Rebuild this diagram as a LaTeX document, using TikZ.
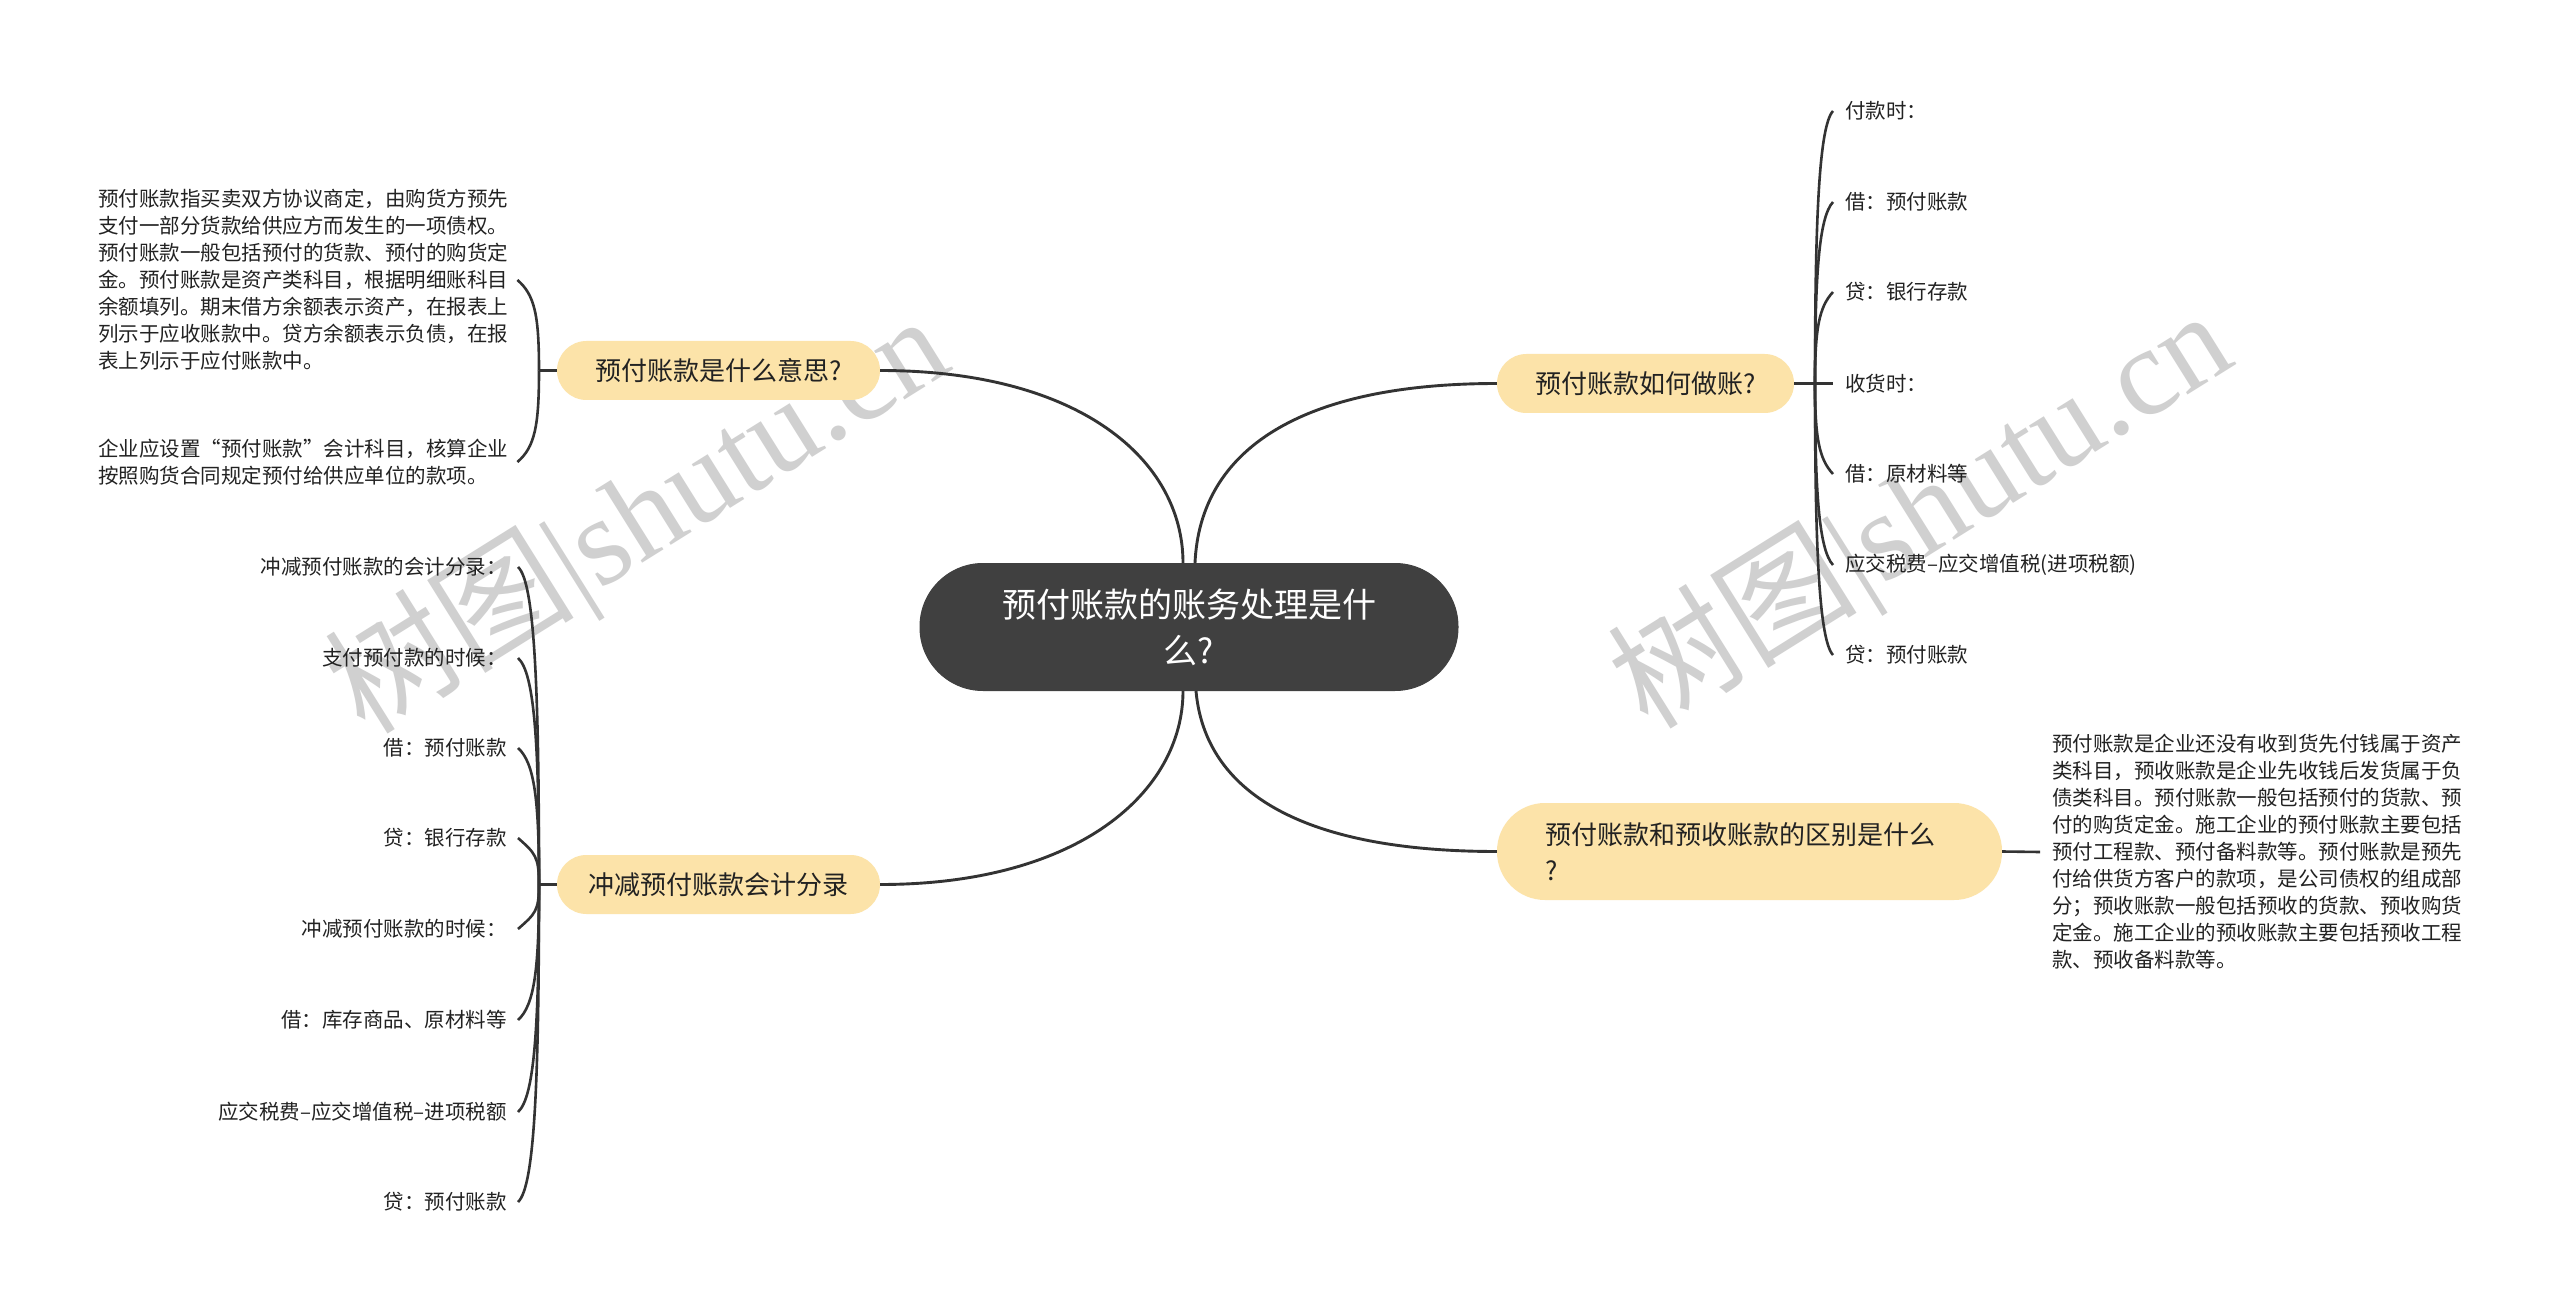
\documentclass[tikz,border=0pt]{standalone}
\usepackage{fontspec}
\setmainfont{Noto Sans CJK SC}
\newfontfamily\wmserif{Liberation Serif}
\usetikzlibrary{calc}
\definecolor{pill}{HTML}{FCE3A9}
\definecolor{hubdark}{HTML}{404040}
\definecolor{linec}{HTML}{333333}
\definecolor{wmc}{HTML}{D0D0D0}
\definecolor{txt}{HTML}{222222}
\begin{document}
\begin{tikzpicture}[x=1pt,y=-1pt,
  link/.style={draw=linec,line width=2.9pt},
  twig/.style={draw=linec,line width=2.6pt},
  topic/.style={fill=pill,rounded corners=29.5pt,minimum height=59pt,inner sep=0pt,
    font=\fontsize{26}{34}\selectfont,text=txt},
  leaf/.style={inner sep=0pt,font=\fontsize{20.5}{27}\selectfont,text=txt},
  watermark/.style={rotate=32,text=wmc,inner sep=0pt,font=\fontsize{125}{125}\selectfont}
]
\fill[white] (0,0) rectangle (2560,1313);
\useasboundingbox (0,0) rectangle (2560,1313);

% watermarks
\node[watermark] (wm1) at (640,519) {树图{\wmserif |shutu.cn}};
\node[watermark] (wm2) at (1923,514) {树图{\wmserif |shutu.cn}};

% central topic
\node[fill=hubdark,draw=black!75,line width=1pt,rounded corners=63pt,
  minimum width=538pt,minimum height=127pt,inner sep=0pt,align=center,
  text=white,font=\fontsize{34}{46}\selectfont] (c) at (1189,627)
  {预付账款的账务处理是什\\么?};

% main topics
\node[topic,minimum width=323pt] (n1) at (718.5,370.5) {预付账款是什么意思?};
\node[topic,minimum width=297pt] (n2) at (1645.5,383.5) {预付账款如何做账?};
\node[topic,minimum width=323pt] (n3) at (718.5,884.5) {冲减预付账款会计分录};
\node[topic,minimum width=505pt,minimum height=97pt,rounded corners=48pt,
  text width=408pt,align=left,font=\fontsize{26}{36}\selectfont] (n4) at (1749.5,851.5)
  {预付账款和预收账款的区别是什么\\?};

% main connectors
\draw[link] ([xshift=-6pt]c.north) .. controls +(0,-103) and +(200,0) .. (n1.east);
\draw[link] ([xshift=6pt]c.north) .. controls +(5,-113) and +(-197,0) .. (n2.west);
\draw[link] ([xshift=-6pt]c.south) .. controls +(0,100) and +(200,0) .. (n3.east);
\draw[link] ([xshift=7pt]c.south) .. controls +(9,100) and +(-197,0) .. (n4.west);

% left top: explanation
\node[leaf,anchor=west,text width=412pt,align=left] (lt1) at (98,280)
  {预付账款指买卖双方协议商定，由购货方预先\\
   支付一部分货款给供应方而发生的一项债权。\\
   预付账款一般包括预付的货款、预付的购货定\\
   金。预付账款是资产类科目，根据明细账科目\\
   余额填列。期末借方余额表示资产，在报表上\\
   列示于应收账款中。贷方余额表示负债，在报\\
   表上列示于应付账款中。};
\node[leaf,anchor=west,text width=412pt,align=left] (lt2) at (98,462)
  {企业应设置“预付账款”会计科目，核算企业\\
   按照购货合同规定预付给供应单位的款项。};
\coordinate (h1) at (539,370.5);
\draw[twig] (n1.west) -- (h1);
\foreach \k in {lt1,lt2}
  \draw[twig] (h1) .. controls ($(h1)!0.6!(h1 |- \k.east)$)
    and ($(h1 |- \k.east)!15pt!(h1) + (-4,0)$) .. ([xshift=7pt]\k.east);

% right top: bookkeeping
\node[leaf,anchor=west] (r1) at (1845,111) {付款时：};
\node[leaf,anchor=west] (r2) at (1845,202) {借：预付账款};
\node[leaf,anchor=west] (r3) at (1845,292) {贷：银行存款};
\node[leaf,anchor=west] (r4) at (1845,383.5) {收货时：};
\node[leaf,anchor=west] (r5) at (1845,474) {借：原材料等};
\node[leaf,anchor=west] (r6) at (1845,565) {应交税费–应交增值税(进项税额)};
\node[leaf,anchor=west] (r7) at (1845,655) {贷：预付账款};
\coordinate (h2) at (1815,383.5);
\draw[twig] (n2.east) -- (h2);
\draw[twig] (h2) -- ([xshift=-12pt]r4.west);
\foreach \k in {r1,r2,r3,r5,r6,r7}
  \draw[twig] (h2) .. controls ($(h2)!0.6!(h2 |- \k.west)$)
    and ($(h2 |- \k.west)!15pt!(h2) + (4,0)$) .. ([xshift=-12pt]\k.west);

% left bottom: entries
\node[leaf,anchor=east] (b1) at (507,567) {冲减预付账款的会计分录：};
\node[leaf,anchor=east] (b2) at (507,658) {支付预付款的时候：};
\node[leaf,anchor=east] (b3) at (507,748) {借：预付账款};
\node[leaf,anchor=east] (b4) at (507,838) {贷：银行存款};
\node[leaf,anchor=east] (b5) at (507,929) {冲减预付账款的时候：};
\node[leaf,anchor=east] (b6) at (507,1020) {借：库存商品、原材料等};
\node[leaf,anchor=east] (b7) at (507,1112) {应交税费–应交增值税–进项税额};
\node[leaf,anchor=east] (b8) at (507,1202) {贷：预付账款};
\coordinate (h3) at (539,884.5);
\draw[twig] (n3.west) -- (h3);
\foreach \k in {b1,b2,b3,b4,b5,b6,b7,b8}
  \draw[twig] (h3) .. controls ($(h3)!0.6!(h3 |- \k.east)$)
    and ($(h3 |- \k.east)!15pt!(h3) + (-4,0)$) .. ([xshift=11pt]\k.east);

% right bottom: difference
\node[leaf,anchor=west,text width=412pt,align=left] (rb) at (2052,852)
  {预付账款是企业还没有收到货先付钱属于资产\\
   类科目，预收账款是企业先收钱后发货属于负\\
   债类科目。预付账款一般包括预付的货款、预\\
   付的购货定金。施工企业的预付账款主要包括\\
   预付工程款、预付备料款等。预付账款是预先\\
   付给供货方客户的款项，是公司债权的组成部\\
   分；预收账款一般包括预收的货款、预收购货\\
   定金。施工企业的预收账款主要包括预收工程\\
   款、预收备料款等。};
\draw[twig] (n4.east) -- ([xshift=-12pt]rb.west);
\end{tikzpicture}
\end{document}
